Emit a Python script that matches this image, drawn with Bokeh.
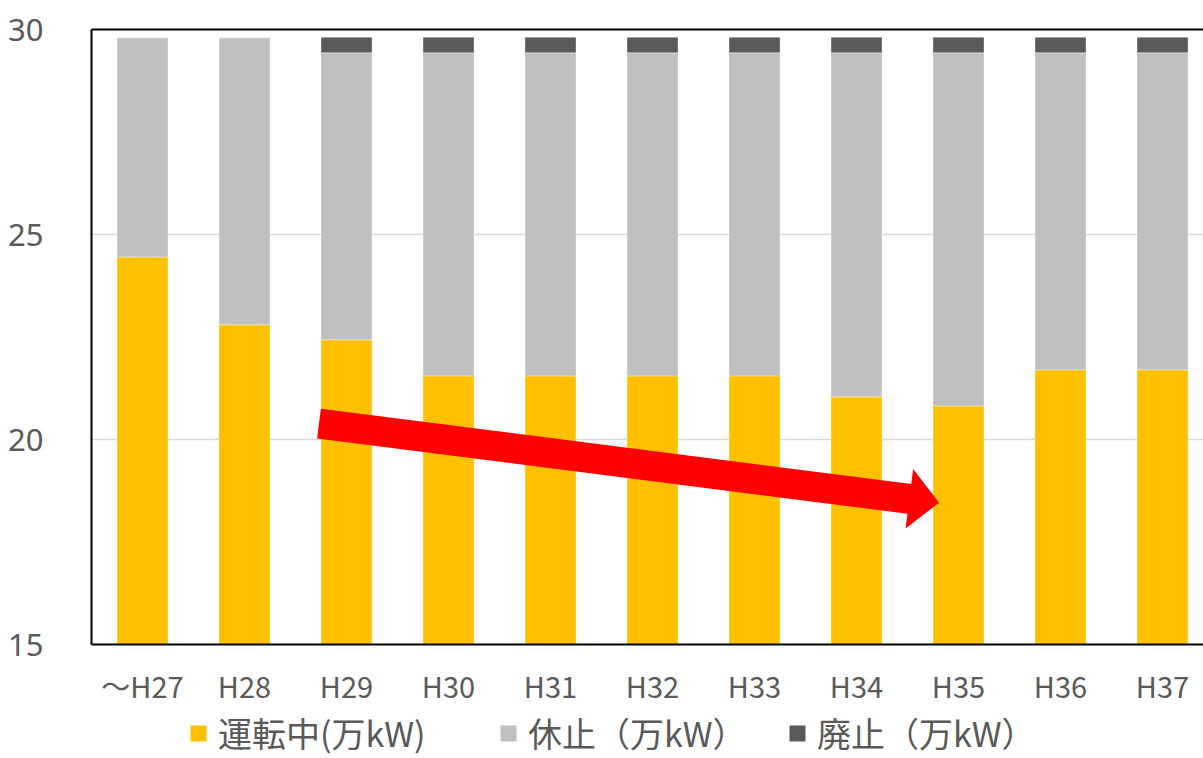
from bokeh.plotting import figure
from bokeh.layouts import column
from bokeh.models import Range1d, FixedTicker, LinearAxis, Legend, LegendItem, ColumnDataSource
from bokeh.embed import file_html
from bokeh.resources import INLINE
import numpy as np

# ---------------- data ----------------
categories = ["～H27", "H28", "H29", "H30", "H31", "H32", "H33", "H34", "H35", "H36", "H37"]
operating = [24.45, 22.80, 22.43, 21.55, 21.55, 21.55, 21.55, 21.04, 20.82, 21.70, 21.70]
suspended = [5.35, 7.00, 7.00, 7.88, 7.88, 7.88, 7.88, 8.39, 8.61, 7.73, 7.73]
abolished = [0.00, 0.00, 0.38, 0.38, 0.38, 0.38, 0.38, 0.38, 0.38, 0.38, 0.38]
series_names = ["運転中(万kW)", "休止（万kW）", "廃止（万kW）"]
series_colors = ["#FFC000", "#BFBFBF", "#595959"]
y_ticks = [15, 20, 25, 30]
grid_ticks = [20, 25]
arrow_start = (2.23, 20.39)   # data coords (category position, value)
arrow_end = (8.31, 18.46)

# ---------------- layout constants ----------------
W = 1203
H1, H2 = 709, 49
BL, BR, BT, BB = 91, 0, 29, 65
FW, FH = W - BL - BR, H1 - BT - BB
X_END = FW / 102.0
Y0, Y1 = 15, 30
label_color = "#595959"

xpos = [i + 0.5 for i in range(len(categories))]
src = ColumnDataSource(dict(x=xpos, op=operating, su=suspended, ab=abolished))

p = figure(width=W, height=H1, x_range=Range1d(0, X_END), y_range=Range1d(Y0, Y1),
           output_backend="svg", toolbar_location=None,
           min_border_left=BL, min_border_right=BR, min_border_top=BT, min_border_bottom=BB)
p.outline_line_color = None

p.vbar_stack(["op", "su", "ab"], x="x", width=0.5, source=src,
             fill_color=series_colors, line_color="white", line_alpha=0.35, line_width=1)

# arrow (computed in screen space for correct proportions)
sx = FW / X_END
sy = FH / (Y1 - Y0)
S = np.array([arrow_start[0] * sx, (arrow_start[1] - Y0) * sy])
T = np.array([arrow_end[0] * sx, (arrow_end[1] - Y0) * sy])
d = (T - S) / np.linalg.norm(T - S)
n = np.array([-d[1], d[0]])
shaft_hw, head_hw, head_len = 15, 30, 30
B = T - d * head_len
pts = [S + n * shaft_hw, B + n * shaft_hw, B + n * head_hw, T,
       B - n * head_hw, B - n * shaft_hw, S - n * shaft_hw]
p.patch([pt[0] / sx for pt in pts], [pt[1] / sy + Y0 for pt in pts],
        fill_color="#FF0000", line_color=None)

# grid
p.xgrid.visible = False
p.ygrid.ticker = FixedTicker(ticks=grid_ticks)
p.ygrid.grid_line_color = "#D9D9D9"
p.ygrid.grid_line_width = 1.5

# axes
p.yaxis.ticker = FixedTicker(ticks=y_ticks)
p.yaxis.axis_line_color = "black"
p.yaxis.axis_line_width = 2
p.yaxis.major_tick_line_color = None
p.yaxis.minor_tick_line_color = None
p.yaxis.major_label_text_font = "Noto Sans"
p.yaxis.major_label_text_font_size = "31px"
p.yaxis.major_label_text_color = label_color
p.yaxis.major_label_standoff = 42

p.xaxis.ticker = FixedTicker(ticks=xpos)
p.xaxis.major_label_overrides = {x: c for x, c in zip(xpos, categories)}
p.xaxis.axis_line_color = "black"
p.xaxis.axis_line_width = 2
p.xaxis.major_tick_line_color = None
p.xaxis.minor_tick_line_color = None
p.xaxis.major_label_text_font = "Noto Sans CJK JP"
p.xaxis.major_label_text_font_size = "29px"
p.xaxis.major_label_text_color = label_color
p.xaxis.major_label_standoff = 13

top_axis = LinearAxis(ticker=FixedTicker(ticks=[]), axis_line_color="black", axis_line_width=2,
                      major_label_text_font_size="0px", major_tick_out=0, major_tick_in=0,
                      minor_tick_out=0, minor_tick_in=0, major_label_standoff=0)
p.add_layout(top_axis, "above")

# ---------------- legend strip (frames aligned with the chart) ----------------
q = figure(width=W, height=H2, x_range=Range1d(0, 1), y_range=Range1d(0, 1),
           output_backend="svg", toolbar_location=None,
           min_border_left=0, min_border_right=0, min_border_top=0, min_border_bottom=0)
q.axis.visible = False
q.grid.visible = False
q.outline_line_color = None
legend_x = [97, 407, 696]   # offsets from the plot frame's left edge, px
for name, col, lx in zip(series_names, series_colors, legend_x):
    # legend swatch source: a single zero-height bar outside the visible range
    r = q.vbar(x=[-1.0], top=[0.0], bottom=[0.0], width=0.1, fill_color=col, line_color=None)
    leg = Legend(items=[LegendItem(label=name, renderers=[r])], location=(lx, 1),
                 orientation="horizontal", border_line_color=None, background_fill_alpha=0,
                 padding=0, margin=0, glyph_width=20, glyph_height=20, label_standoff=10,
                 label_text_font="Noto Sans CJK JP", label_text_font_size="34px",
                 label_text_color=label_color)
    q.add_layout(leg, "center")

layout = column(p, q, spacing=0)
open("out.html", "w").write(file_html(layout, INLINE))
